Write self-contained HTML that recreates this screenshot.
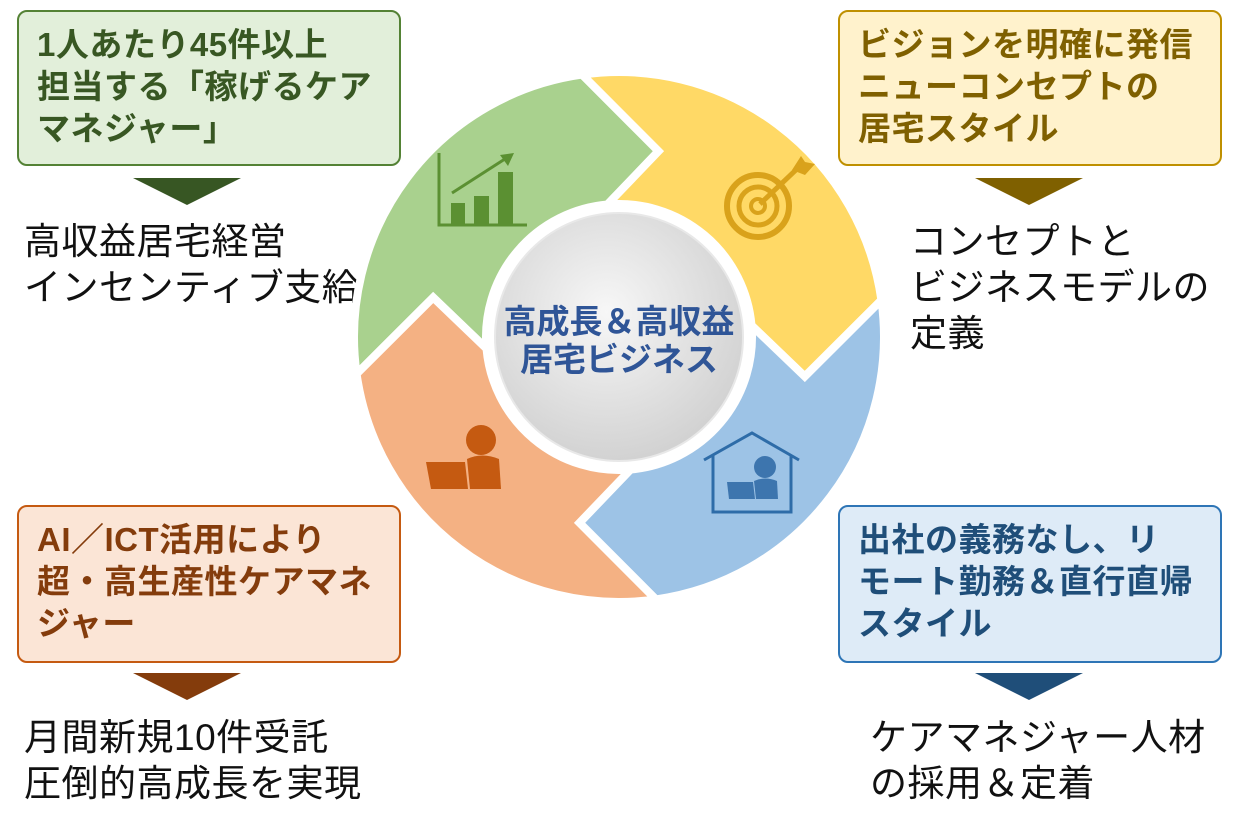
<!DOCTYPE html>
<html><head><meta charset="utf-8"><style>
body{margin:0;width:1233px;height:832px;background:#fff;position:relative;overflow:hidden;font-family:"Liberation Sans","Noto Sans CJK JP",sans-serif}
.box{position:absolute;box-sizing:border-box;border:2.5px solid;border-radius:10px;padding:12px 0 0 18px;font-weight:bold;font-size:33px;line-height:42px;letter-spacing:0.5px}
.t{position:absolute;font-size:37px;line-height:46px;color:#111;letter-spacing:0.5px}
.tri{position:absolute;width:0;height:0;border-left:54px solid transparent;border-right:54px solid transparent;border-top:27px solid}
</style></head><body>
<div class="box" style="left:17px;top:10px;width:384px;height:156px;background:#e2efda;border-color:#548235;color:#385723">1人あたり45件以上<br>担当する「稼げるケア<br>マネジャー」</div>
<div class="box" style="left:838px;top:10px;width:384px;height:156px;background:#fff2cc;border-color:#bf9000;color:#7f6000">ビジョンを明確に発信<br>ニューコンセプトの<br>居宅スタイル</div>
<div class="box" style="left:17px;top:505px;width:384px;height:158px;background:#fbe5d6;border-color:#c55a11;color:#843c0c">AI／ICT活用により<br>超・高生産性ケアマネ<br>ジャー</div>
<div class="box" style="left:838px;top:505px;width:384px;height:158px;background:#deebf7;border-color:#2e75b6;color:#1f4e79">出社の義務なし、リ<br>モート勤務＆直行直帰<br>スタイル</div>
<div class="tri" style="left:133px;top:178px;border-top-color:#375623"></div>
<div class="tri" style="left:975px;top:178px;border-top-color:#7f6000"></div>
<div class="tri" style="left:133px;top:673px;border-top-color:#843c0c"></div>
<div class="tri" style="left:975px;top:673px;border-top-color:#1f4e79"></div>
<div class="t" style="left:24px;top:219px">高収益居宅経営<br>インセンティブ支給</div>
<div class="t" style="left:910px;top:219px">コンセプトと<br>ビジネスモデルの<br>定義</div>
<div class="t" style="left:24px;top:715px">月間新規10件受託<br>圧倒的高成長を実現</div>
<div class="t" style="left:870px;top:715px">ケアマネジャー人材<br>の採用＆定着</div>
<svg style="position:absolute;left:0;top:0" width="1233" height="832">
<defs>
<radialGradient id="g" cx="45%" cy="40%" r="65%"><stop offset="0" stop-color="#f7f7f7"/><stop offset="1" stop-color="#cfcfcf"/></radialGradient>
<path id="seg" d="M -262.4 36.9 A 265 265 0 0 1 -36.9 -262.4 L 39.5 -185.8 L -11.6 -132.5 A 133 133 0 0 0 -132.5 11.6 L -185.8 -39.5 Z" stroke="#fff" stroke-width="8" stroke-linejoin="miter"/>
</defs>
<g transform="translate(619,337)">
<use href="#seg" fill="#a9d18e"/>
<use href="#seg" fill="#ffd966" transform="rotate(90)"/>
<use href="#seg" fill="#9dc3e6" transform="rotate(180)"/>
<use href="#seg" fill="#f4b183" transform="rotate(270)"/>
<circle r="131" fill="#fff"/>
<circle r="124" fill="url(#g)" stroke="#e8e8e8" stroke-width="2"/>
</g>
<g fill="#5b9032" stroke="#5b9032">
<path d="M439 153 V225 H527" fill="none" stroke-width="3"/>
<rect x="451" y="203" width="14" height="22" stroke="none"/><rect x="474" y="196" width="15" height="29" stroke="none"/><rect x="498" y="172" width="15" height="53" stroke="none"/>
<path d="M452 193 L508 157" fill="none" stroke-width="3"/><path d="M514 153 L500 155 L508 166 Z" stroke="none"/>
</g>
<g fill="none" stroke="#d9a21b">
<circle cx="758" cy="206" r="31" stroke-width="6"/><circle cx="758" cy="206" r="19" stroke-width="5"/><circle cx="758" cy="206" r="7" stroke-width="4"/>
<path d="M760 204 L800 166" stroke-width="5"/><path d="M792 170 L801 156 L805 162 L815 164 L805 175 Z" fill="#d9a21b" stroke="none"/>
</g>
<g fill="#c55a11"><circle cx="481" cy="440" r="15"/><path d="M467 459 Q482 452 499 459 L501 489 H470 Z"/><path d="M426 462 H465 L468 489 H431 Z"/></g>
<g fill="none" stroke="#2e6ca8" stroke-width="3"><path d="M704 460 L752 433 L799 460"/><path d="M713 455 V512 H791 V455"/></g>
<g fill="#3d75ae"><circle cx="765" cy="467" r="11"/><path d="M754 481 Q765 476 777 481 L778 499 H756 Z"/><path d="M727 482 H753 L755 499 H729 Z"/></g>
<text x="619" y="333" text-anchor="middle" font-family="Liberation Sans,Noto Sans CJK JP,sans-serif" font-weight="bold" font-size="33" fill="#2f5597">高成長＆高収益</text>
<text x="619" y="371" text-anchor="middle" font-family="Liberation Sans,Noto Sans CJK JP,sans-serif" font-weight="bold" font-size="33" fill="#2f5597">居宅ビジネス</text>
</svg>
</body></html>
